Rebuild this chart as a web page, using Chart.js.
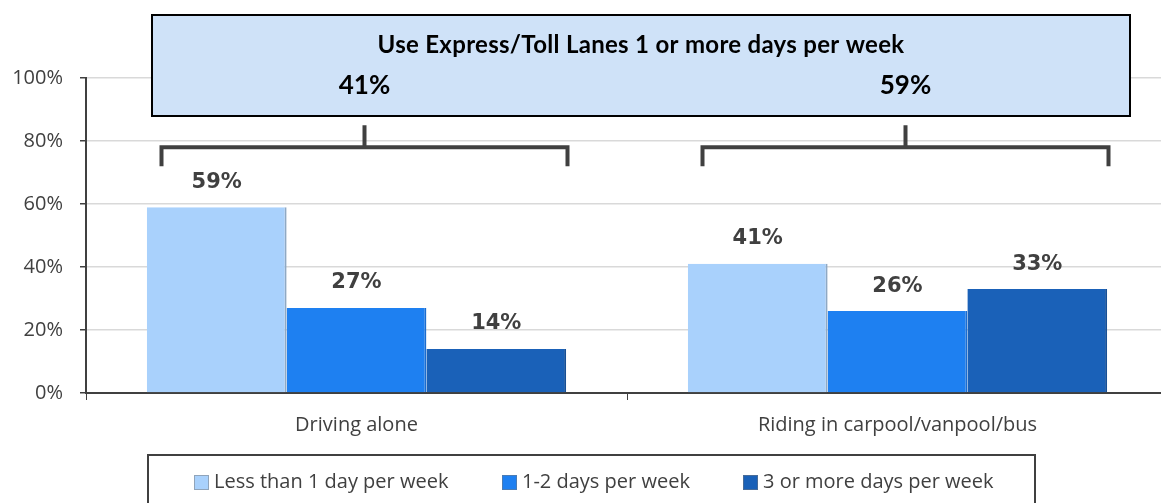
<!DOCTYPE html>
<html>
<head>
<meta charset="utf-8">
<script src="https://cdn.jsdelivr.net/npm/chart.js@4.4.1/dist/chart.umd.min.js"></script>
<style>
  html, body { margin: 0; padding: 0; background: #fff; overflow: hidden; }
</style>
</head>
<body>
<canvas id="tollChart" width="1168" height="503"></canvas>
<script>
// Data
const categories = ['Driving alone', 'Riding in carpool/vanpool/bus'];
const seriesNames = ['Less than 1 day per week', '1-2 days per week', '3 or more days per week'];
const lessThanOneDay = [59, 41];
const oneToTwoDays = [27, 26];
const threeOrMoreDays = [14, 33];
const expressTotals = [41, 59];
const yTickValues = [0, 20, 40, 60, 80, 100];
const boxTitle = 'Use Express/Toll Lanes 1 or more days per week';

const barColors = ['#a9d1fc', '#1e80f1', '#1a61b8'];
const edgeColors = ['#8fa9c4', '#1a6cd0', '#164f96'];
const textGray = '#404040';

// value labels above each bar
const barLabels = {
  id: 'barLabels',
  afterDatasetsDraw(chart) {
    const ctx = chart.ctx;
    ctx.save();
    ctx.font = 'bold 21px "DejaVu Sans"';
    ctx.fillStyle = textGray;
    ctx.textAlign = 'center';
    ctx.textBaseline = 'middle';
    chart.data.datasets.forEach((ds, i) => {
      chart.getDatasetMeta(i).data.forEach((bar, j) => {
        ctx.fillText(ds.data[j] + '%', bar.x, bar.y - 25);
      });
    });
    ctx.restore();
  }
};

// summary box + brackets over each group
const summaryBox = {
  id: 'summaryBox',
  afterDraw(chart) {
    const ctx = chart.ctx;
    const x = chart.scales.x;
    const y = chart.scales.y;
    ctx.save();

    // brackets
    ctx.strokeStyle = textGray;
    ctx.lineWidth = 4;
    const yBar = y.getPixelForValue(78);
    const yEnd = y.getPixelForValue(72);
    const yTop = y.getPixelForValue(85);
    categories.forEach((c, i) => {
      const cx = x.getPixelForValue(i) + 8;
      ctx.beginPath();
      ctx.moveTo(cx - 203, yEnd);
      ctx.lineTo(cx - 203, yBar);
      ctx.lineTo(cx + 203, yBar);
      ctx.lineTo(cx + 203, yEnd);
      ctx.moveTo(cx, yBar);
      ctx.lineTo(cx, yTop);
      ctx.stroke();
    });

    // box
    ctx.fillStyle = '#cfe2f8';
    ctx.fillRect(152, 15, 978, 101);
    ctx.strokeStyle = '#000';
    ctx.lineWidth = 2;
    ctx.strokeRect(152, 15, 978, 101);

    ctx.fillStyle = '#000';
    ctx.textAlign = 'center';
    ctx.textBaseline = 'middle';
    ctx.font = 'bold 24px Lato';
    ctx.letterSpacing = '0.3px';
    ctx.fillText(boxTitle, 641, 45);
    ctx.letterSpacing = '0px';
    ctx.font = 'bold 26px Lato';
    expressTotals.forEach((v, i) => {
      ctx.fillText(v + '%', x.getPixelForValue(i) + 8, 86);
    });
    ctx.restore();
  }
};

// boxed legend at the bottom
const boxLegend = {
  id: 'boxLegend',
  afterDraw(chart) {
    const ctx = chart.ctx;
    const itemX = [194, 502, 743];
    ctx.save();
    ctx.strokeStyle = textGray;
    ctx.lineWidth = 2;
    ctx.strokeRect(148, 455, 887, 70);
    ctx.font = '20px "Open Sans"';
    ctx.textBaseline = 'middle';
    ctx.textAlign = 'left';
    chart.data.datasets.forEach((ds, i) => {
      ctx.fillStyle = ds.backgroundColor;
      ctx.fillRect(itemX[i], 475, 15, 15);
      ctx.strokeStyle = 'rgba(120,120,120,0.5)';
      ctx.lineWidth = 1;
      ctx.strokeRect(itemX[i] + 0.5, 475.5, 14, 14);
      ctx.fillStyle = textGray;
      ctx.fillText(ds.label, itemX[i] + 20, 482);
    });
    ctx.restore();
  }
};

new Chart(document.getElementById('tollChart').getContext('2d'), {
  type: 'bar',
  data: {
    labels: categories,
    datasets: [lessThanOneDay, oneToTwoDays, threeOrMoreDays].map((vals, i) => ({
      label: seriesNames[i],
      data: vals,
      backgroundColor: barColors[i],
      borderColor: edgeColors[i],
      borderWidth: { top: 0, right: 2, bottom: 0, left: 0 },
      categoryPercentage: 0.775,
      barPercentage: 1
    }))
  },
  options: {
    responsive: false,
    animation: false,
    layout: { padding: { top: 78, right: 0, left: 0, bottom: 0 } },
    plugins: {
      legend: { display: false },
      tooltip: { enabled: false }
    },
    scales: {
      y: {
        min: 0,
        max: 100,
        afterFit: (s) => { s.width = 86; },
        afterBuildTicks: (s) => { s.ticks = yTickValues.map(v => ({ value: v })); },
        ticks: {
          color: textGray,
          padding: 17,
          font: { family: '"Open Sans"', size: 20 },
          callback: (v) => v + '%'
        },
        grid: { color: '#d9d9d9', lineWidth: 1.5, tickColor: textGray, tickLength: 6 },
        border: { color: textGray, width: 2 }
      },
      x: {
        afterFit: (s) => { s.height = 110; },
        ticks: {
          color: textGray,
          padding: 13,
          font: { family: '"Open Sans"', size: 20 }
        },
        grid: { drawOnChartArea: false, tickColor: textGray, tickLength: 7 },
        border: { color: textGray, width: 2 }
      }
    }
  },
  plugins: [barLabels, summaryBox, boxLegend]
});
</script>
</body>
</html>
